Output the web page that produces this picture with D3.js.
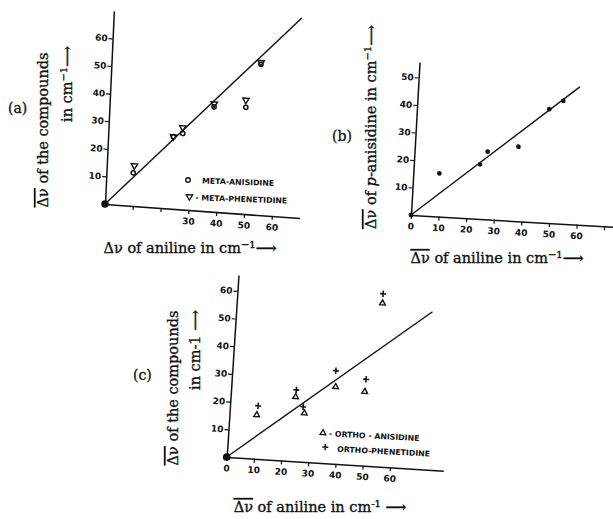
<!DOCTYPE html>
<html>
<head>
<meta charset="utf-8">
<script src="https://cdn.jsdelivr.net/npm/d3@7"></script>
<style>
    body { margin: 0; background: #fff; }
    svg { display: block; }
    .axis path, .axis line { stroke: #111; }
    .axis path { stroke-width: 1.5; }
    .axis line { stroke-width: 1.2; }
    .axis text { font-family: "DejaVu Sans"; font-weight: bold; font-size: 9px; fill: #111; }
    .title { font-family: "DejaVu Serif"; font-size: 14.5px; fill: #111; stroke: #111; stroke-width: 0.35; }
    .tag { font-family: "DejaVu Serif"; font-size: 14px; fill: #111; stroke: #111; stroke-width: 0.3; }
    .legend { font-family: "DejaVu Sans"; font-weight: bold; font-size: 7.8px; fill: #111; }
</style>
</head>
<body>
<svg id="chart" width="613" height="519"></svg>
<script>
// values: [aniline shift, compound shift] in cm-1
const metaAnisidine = [[0, 0], [9.6, 12.0], [23.4, 26.1], [26.7, 27.5], [37.5, 37.9], [48.9, 38.6], [53.6, 54.5]];
const metaPhenetidine = [[9.9, 14.6], [23.4, 26.1], [26.6, 29.6], [37.5, 39.0], [48.8, 41.2], [53.6, 55.2]];
const pAnisidine = [[0, 0], [9.4, 15.7], [23.9, 19.8], [26.4, 24.6], [37.4, 27.0], [47.8, 41.3], [52.7, 44.6]];
const orthoAnisidine = [[0, 0], [10.0, 15.8], [23.8, 23.2], [27.4, 17.5], [38.2, 27.7], [49.0, 26.6], [53.4, 58.8]];
const orthoPhenetidine = [[10.3, 19.1], [23.9, 25.7], [26.8, 19.8], [37.9, 33.5], [49.2, 31.1], [53.4, 62.2]];

// fitted straight lines drawn on each panel
const lineA = [[0, 0], [67.5, 72.3]];
const lineB = [[0, 0], [58.4, 50.0]];
const lineC = [[0, 0], [71.9, 56.9]];

// tick values and which of them carry labels
const ticksA = [10, 20, 30, 40, 50, 60];
const xLabelsA = [30, 40, 50, 60];
const yTicksB = [10, 20, 30, 40, 50];
const xTicksB = [0, 10, 20, 30, 40, 50, 60, 70];
const xLabelsB = [0, 10, 20, 30, 40, 50, 60];
const xTicksC = [0, 10, 20, 30, 40, 50, 60];

const svg = d3.select("#chart");

// the scanned figure is slightly skewed: every panel gets its own shear
const panels = [
    {ox: 105, oy: 204, sx: 0.072, shy: 0.046, kx: 2.78, ky: 2.76, xMax: 70, yMax: 70,
     xTicks: ticksA, xLabels: xLabelsA, yTicks: ticksA, fit: lineA},
    {ox: 411, oy: 215, sx: 0.058, shy: 0.056, kx: 2.76, ky: 2.75, xMax: 74, yMax: 55.6,
     xTicks: xTicksB, xLabels: xLabelsB, yTicks: yTicksB, fit: lineB},
    {ox: 226.7, oy: 457, sx: 0.063, shy: 0.065, kx: 2.72, ky: 2.77, xMax: 79.6, yMax: 65.7,
     xTicks: xTicksC, xLabels: xTicksC, yTicks: ticksA, fit: lineC}
];

function drawPanel(cfg) {
    const g = svg.append("g")
        .attr("transform", `matrix(1,${cfg.sx},${-cfg.shy},1,${cfg.ox},${cfg.oy})`);
    const x = d3.scaleLinear().domain([0, cfg.xMax]).range([0, cfg.xMax * cfg.kx]);
    const y = d3.scaleLinear().domain([0, cfg.yMax]).range([0, -cfg.yMax * cfg.ky]);

    g.append("g").attr("class", "axis")
        .call(d3.axisBottom(x).tickValues(cfg.xTicks).tickSize(4).tickSizeOuter(0).tickPadding(4)
            .tickFormat(d => cfg.xLabels.includes(d) ? d : ""));
    g.append("g").attr("class", "axis")
        .call(d3.axisLeft(y).tickValues(cfg.yTicks).tickSize(4).tickSizeOuter(0).tickPadding(1));
    g.selectAll(".axis text").attr("font-family", null).attr("font-size", null);

    g.append("path")
        .datum(cfg.fit)
        .attr("fill", "none")
        .attr("stroke", "#111")
        .attr("stroke-width", 1.4)
        .attr("d", d3.line().x(d => x(d[0])).y(d => y(d[1])));

    return {g, x, y};
}

const [pa, pb, pc] = panels.map(drawPanel);

// (a) meta compounds
pa.g.selectAll(".anis").data(metaAnisidine).join("path")
    .attr("class", "anis")
    .attr("transform", d => `translate(${pa.x(d[0])},${pa.y(d[1])})`)
    .attr("d", (d, i) => d3.symbol(d3.symbolCircle, i === 0 ? 28 : 14)())
    .attr("fill", (d, i) => i === 0 ? "#111" : "none")
    .attr("stroke", "#111").attr("stroke-width", 1.5);
pa.g.selectAll(".phen").data(metaPhenetidine).join("path")
    .attr("class", "phen")
    .attr("transform", d => `translate(${pa.x(d[0])},${pa.y(d[1])}) rotate(180)`)
    .attr("d", d3.symbol(d3.symbolTriangle, 18))
    .attr("fill", "none")
    .attr("stroke", "#111").attr("stroke-width", 1.4);

// (b) para-anisidine
pb.g.selectAll(".para").data(pAnisidine).join("circle")
    .attr("class", "para")
    .attr("cx", d => pb.x(d[0]))
    .attr("cy", d => pb.y(d[1]))
    .attr("r", 2.4)
    .attr("fill", "#111");

// (c) ortho compounds
pc.g.selectAll(".oanis").data(orthoAnisidine).join("path")
    .attr("class", "oanis")
    .attr("transform", d => `translate(${pc.x(d[0])},${pc.y(d[1])})`)
    .attr("d", (d, i) => i === 0 ? d3.symbol(d3.symbolCircle, 30)() : d3.symbol(d3.symbolTriangle, 14)())
    .attr("fill", (d, i) => i === 0 ? "#111" : "none")
    .attr("stroke", "#111").attr("stroke-width", 1.4);
pc.g.selectAll(".ophen").data(orthoPhenetidine).join("path")
    .attr("class", "ophen")
    .attr("transform", d => `translate(${pc.x(d[0])},${pc.y(d[1])})`)
    .attr("d", "M-3,0H3M0,-3.2V3.2")
    .attr("stroke", "#111").attr("stroke-width", 1.6);

// legends
const legA = svg.append("g").attr("transform", "translate(188,180) rotate(2)");
legA.append("circle").attr("r", 2.3).attr("fill", "none").attr("stroke", "#111").attr("stroke-width", 1.4);
legA.append("text").attr("class", "legend").attr("x", 14).attr("y", 3).text("META-ANISIDINE");
legA.append("path").attr("transform", "translate(2,16.5) rotate(180)")
    .attr("d", d3.symbol(d3.symbolTriangle, 18)).attr("fill", "none").attr("stroke", "#111").attr("stroke-width", 1.3);
legA.append("text").attr("class", "legend").attr("x", 8).attr("y", 20).text("- META-PHENETIDINE");

const legC = svg.append("g").attr("transform", "translate(323,433) rotate(3)");
legC.append("path").attr("d", d3.symbol(d3.symbolTriangle, 14))
    .attr("fill", "none").attr("stroke", "#111").attr("stroke-width", 1.3);
legC.append("text").attr("class", "legend").attr("x", 6).attr("y", 3).text("- ORTHO - ANISIDINE");
legC.append("path").attr("transform", "translate(3,14)").attr("d", "M-3,0H3M0,-3.2V3.2")
    .attr("stroke", "#111").attr("stroke-width", 1.5);
legC.append("text").attr("class", "legend").attr("x", 15).attr("y", 18).text("ORTHO-PHENETIDINE");

// panel tags
svg.append("text").attr("class", "tag").attr("x", 8).attr("y", 113).text("(a)");
svg.append("text").attr("class", "tag").attr("x", 332).attr("y", 141).text("(b)");
svg.append("text").attr("class", "tag").attr("x", 133).attr("y", 380).text("(c)");

// helper: builds a title from parts (overbar, superscript, italic)
function title(x, y, angle, parts, anchor) {
    const t = svg.append("text").attr("class", "title")
        .attr("transform", `translate(${x},${y}) rotate(${angle})`)
        .attr("text-anchor", anchor || "middle");
    parts.forEach(p => {
        const s = t.append("tspan").text(p.t);
        if (p.over) s.attr("text-decoration", "overline");
        if (p.sup) s.attr("dy", -5).attr("font-size", "10px");
        if (p.down) s.attr("dy", 5);
        if (p.italic) s.attr("font-style", "italic");
    });
    return t;
}

// axis titles
title(48, 130, -90, [{t: "Δν", over: true}, {t: " of the compounds"}]);
title(72, 84, -90, [{t: "in cm"}, {t: "−1", sup: true}, {t: "⟶", down: true}]);
title(190, 253, 0, [{t: "Δν"}, {t: " of aniline in cm"}, {t: "−1", sup: true}, {t: "⟶", down: true}]);

title(376, 229, -90, [{t: "Δν", over: true}, {t: " of "}, {t: "p", italic: true}, {t: "-anisidine in cm"}, {t: "−1", sup: true}, {t: "⟶", down: true}], "start");
title(497, 263, 0, [{t: "Δν", over: true}, {t: " of aniline in cm"}, {t: "−1", sup: true}, {t: "⟶", down: true}]);

title(178, 388, -90, [{t: "Δν", over: true}, {t: " of the compounds"}]);
title(200, 350, -90, [{t: "in cm"}, {t: "-1"}, {t: " ⟶"}]);
title(320, 512, 0, [{t: "Δν", over: true}, {t: " of aniline in cm"}, {t: "-1", sup: true}, {t: " ⟶", down: true}]);
</script>
</body>
</html>
